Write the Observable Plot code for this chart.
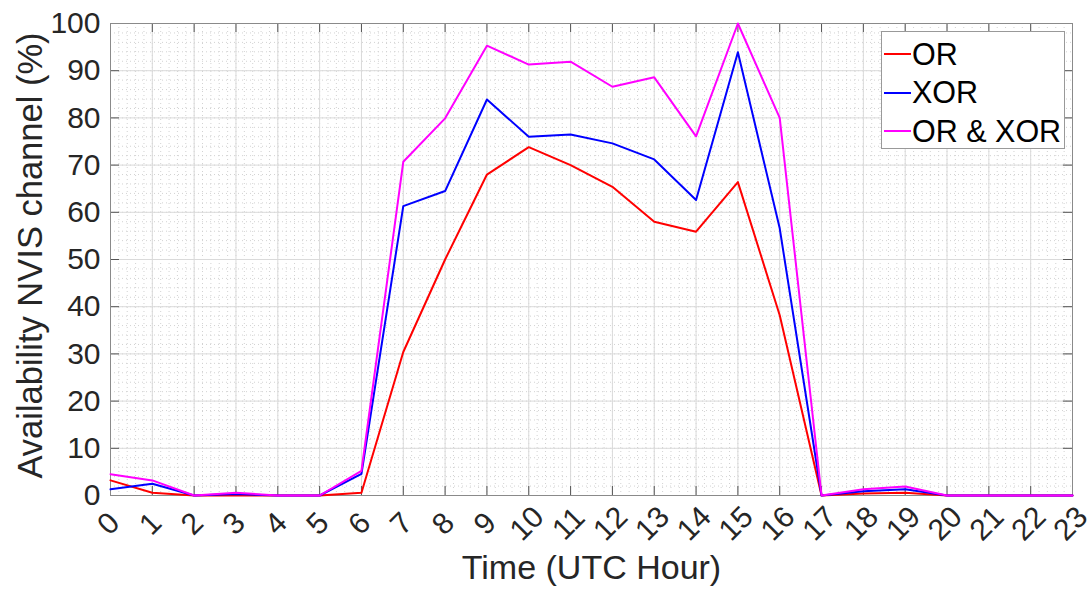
<!DOCTYPE html>
<html>
<head>
<meta charset="utf-8">
<script src="https://cdn.jsdelivr.net/npm/d3@7"></script>
<script src="https://cdn.jsdelivr.net/npm/@observablehq/plot@0.6"></script>
<style>
  html, body { margin: 0; padding: 0; background: #fff; }
  #wrap { position: relative; width: 1091px; height: 596px; font-family: "Liberation Sans", Arial, sans-serif; }
  #legend { position: absolute; left: 881px; top: 31px; width: 184px; height: 118px; background: #fff; border: 1px solid #999; box-sizing: border-box; }
  .item { position: absolute; left: 0; height: 38px; display: flex; align-items: center; white-space: nowrap; }
  .sw { width: 27px; height: 2px; margin-left: 2px; margin-right: 1px; flex: none; }
  .lab { font-size: 30.5px; color: #000; line-height: 1; white-space: nowrap; }
</style>
</head>
<body>
<div id="wrap"><div id="chart"></div><div id="legend"></div></div>
<script>
const hours = d3.range(0, 24);
const seriesNames = ["OR", "XOR", "OR & XOR"];
const seriesColors = ["#ff0000", "#0000ff", "#ff00ff"];
const orValues    = [3.2, 0.6, 0, 0, 0, 0, 0.6, 30.4, 50.0, 68.0, 73.8, 70.0, 65.4, 58.0, 55.9, 66.4, 38.2, 0, 0.4, 0.6, 0, 0, 0, 0];
const xorValues   = [1.3, 2.5, 0, 0.3, 0, 0, 4.6, 61.3, 64.5, 83.9, 76.0, 76.5, 74.6, 71.2, 62.6, 93.9, 56.6, 0, 0.9, 1.3, 0, 0, 0, 0];
const bothValues  = [4.5, 3.2, 0, 0.6, 0, 0, 5.2, 70.7, 79.9, 95.3, 91.3, 91.9, 86.6, 88.6, 76.1, 100, 80.0, 0, 1.3, 1.9, 0, 0, 0, 0];
const yTicks = d3.range(0, 101, 10);
const xTicks = hours;
const xLabel = "Time (UTC Hour)";
const yLabel = "Availability NVIS channel (%)";

const allSeries = [orValues, xorValues, bothValues];
const rows = allSeries.flatMap((vals, i) => vals.map((v, h) => ({hour: hours[h], value: v, series: seriesNames[i]})));

const W = 1091, H = 596;
const mL = 110, mR = 19, mT = 23, mB = 101;
const innerW = W - mL - mR, innerH = H - mT - mB;
const minorX = d3.range(0, 23.0001, 0.2);
const minorY = d3.range(0, 100.0001, 2);
const tickLen = 9;

const chart = Plot.plot({
  width: W, height: H,
  marginLeft: mL, marginRight: mR, marginTop: mT, marginBottom: mB,
  style: {fontFamily: '"Liberation Sans", Arial, sans-serif', background: "#fff"},
  x: {domain: [0, 23], axis: null},
  y: {domain: [0, 100], axis: null},
  marks: [
    Plot.gridX(minorX, {stroke: "#d2d2d2", strokeOpacity: 1, strokeDasharray: "1,3"}),
    Plot.gridY(minorY, {stroke: "#d2d2d2", strokeOpacity: 1, strokeDasharray: "1,3"}),
    Plot.gridX(xTicks, {stroke: "#dadada", strokeOpacity: 1}),
    Plot.gridY(yTicks, {stroke: "#dadada", strokeOpacity: 1}),
    Plot.tickX(xTicks, {x: d => d, stroke: "#555", insetTop: innerH - tickLen}),
    Plot.tickX(xTicks, {x: d => d, stroke: "#555", insetBottom: innerH - tickLen}),
    Plot.tickY(yTicks, {y: d => d, stroke: "#555", insetRight: innerW - tickLen}),
    Plot.tickY(yTicks, {y: d => d, stroke: "#555", insetLeft: innerW - tickLen}),
    Plot.frame({stroke: "#8a8a8a"}),
    ...seriesNames.map((name, i) =>
      Plot.line(rows.filter(r => r.series === name), {x: "hour", y: "value", stroke: seriesColors[i], strokeWidth: 2})
    ),
    Plot.text(yTicks, {y: d => d, frameAnchor: "left", text: d => String(d), textAnchor: "end", dx: -10, fontSize: 30, fill: "#262626"}),
    Plot.text(xTicks, {x: d => d, frameAnchor: "bottom", text: d => String(d), textAnchor: "middle", rotate: -45, dx: 5, dy: 35, fontSize: 30, fill: "#262626"}),
    Plot.text([yLabel], {frameAnchor: "left", text: d => d, textAnchor: "middle", rotate: -90, dx: -80, dy: -4, fontSize: 34.5, fill: "#262626"}),
    Plot.text([xLabel], {frameAnchor: "bottom", text: d => d, textAnchor: "middle", dy: 83, fontSize: 34, fill: "#262626"})
  ]
});
document.getElementById("chart").appendChild(chart);

const legend = document.getElementById("legend");
seriesNames.forEach((name, i) => {
  const item = document.createElement("div");
  item.className = "item";
  item.style.top = (3 + i * 38.5) + "px";
  const sw = document.createElement("div");
  sw.className = "sw";
  sw.style.background = seriesColors[i];
  const lab = document.createElement("span");
  lab.className = "lab";
  lab.textContent = name;
  item.appendChild(sw);
  item.appendChild(lab);
  legend.appendChild(item);
});
</script>
</body>
</html>
